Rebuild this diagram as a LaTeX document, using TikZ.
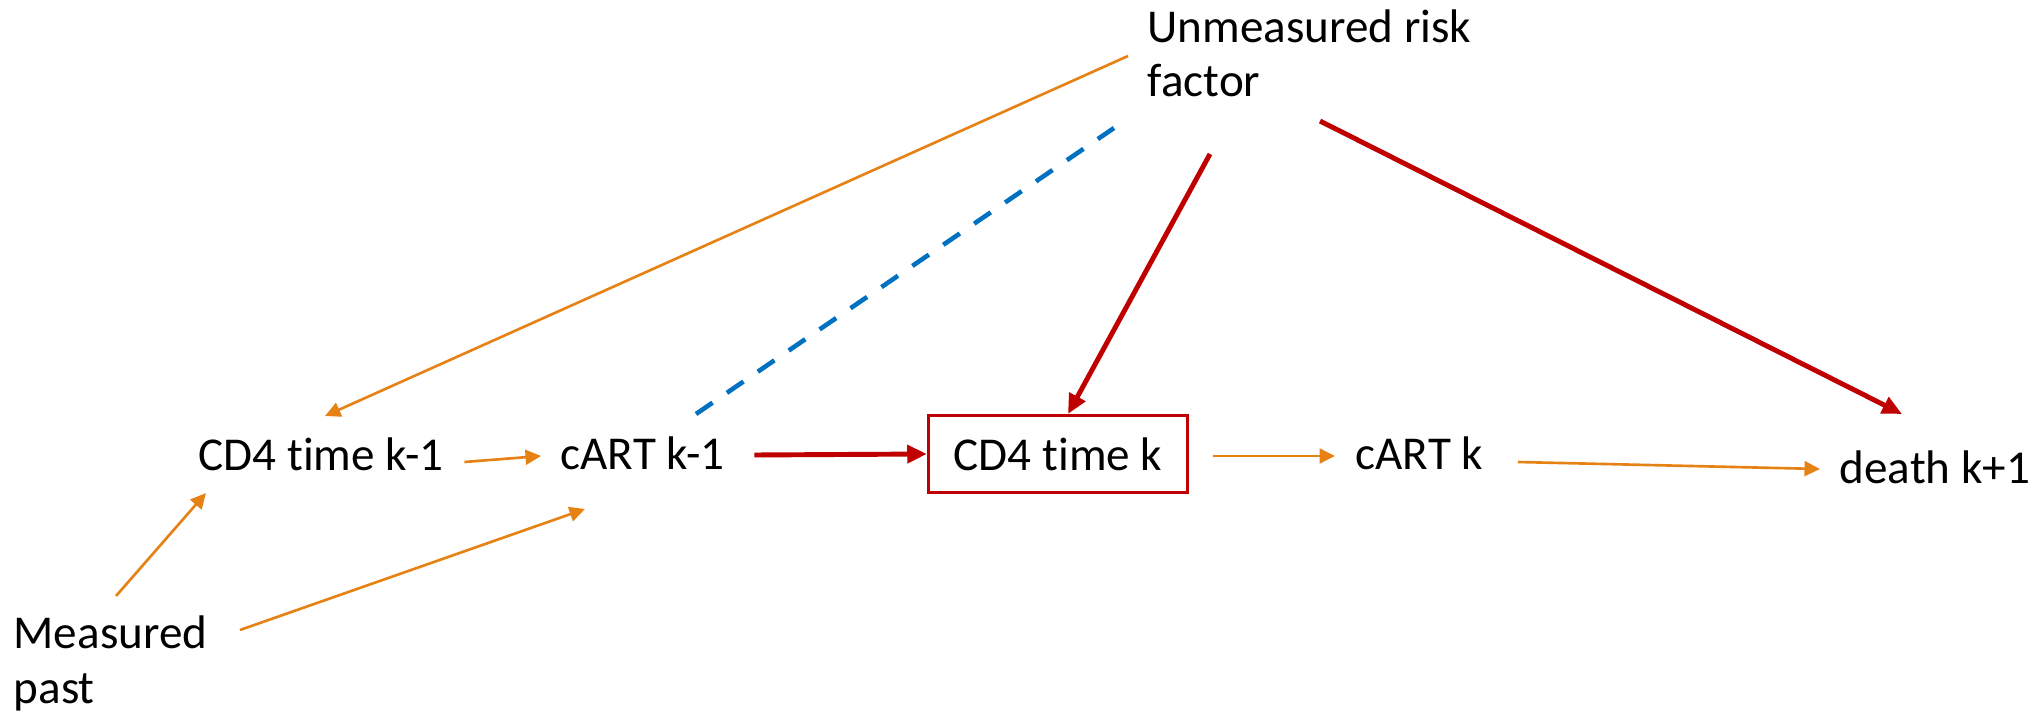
\documentclass[tikz,border=0pt]{standalone}
\usepackage{fontspec}
\setmainfont{Carlito}[Ligatures=NoCommon]
\usetikzlibrary{arrows.meta,calc,positioning}
\definecolor{dagorange}{RGB}{230,130,20}
\definecolor{dagred}{RGB}{192,0,0}
\definecolor{dagblue}{RGB}{0,112,192}
\tikzset{
    var/.style={inner sep=0pt, anchor=base west, align=left,
    font=\fontsize{13.4}{15.4}\selectfont},
    varbox/.style={draw=dagred, line width=0.85pt, rectangle, inner sep=0pt,
    minimum width=2.59cm, minimum height=0.77cm,
    font=\fontsize{13.4}{15.4}\selectfont},
    oarr/.style={draw=dagorange, line width=0.75pt, -{Triangle[length=4.4pt, width=4.2pt]}},
    rarr/.style={draw=dagred, line width=1.4pt, -{Triangle[length=5.6pt, width=5pt]}},
    bdash/.style={draw=dagblue, line width=1.3pt, dash pattern=on 5.7pt off 4.95pt}
}
\begin{document}
\begin{tikzpicture}[x=0.01cm, y=-0.01cm]
  \useasboundingbox (0,0) rectangle (2038,715);

  \node[var] (risk) at (1147,97) {Unmeasured risk\\factor};
  \node[var] (cdprev) at (198,470) {CD4 time k-1};
  \node[var] (cartprev) at (560,469) {cART k-1};
  \node[varbox] (cdnow) at (1058,454) {CD4 time k};
  \node[var] (cartnow) at (1355,469) {cART k};
  \node[var] (death) at (1839,483) {death k+1};
  \node[var] (past) at (13,703) {Measured\\past};

  % from the unmeasured factor
  \draw[oarr] ($(risk.base west)+(-19,-41)$) -- ($(cdprev.base west)+(127,-54)$);
  \draw[bdash] ($(cartprev.base west)+(136,-55)$) -- ($(risk.base west)+(-33,31)$);
  \draw[rarr] ($(risk.base west)+(63,57)$) -- ($(cdnow.north)+(10,0)$);
  \draw[rarr] ($(risk.base west)+(173,24)$) -- ($(death.base west)+(63,-69)$);

  % along the time line
  \draw[oarr] ($(cdprev.base east)+(20,-8)$) -- ($(cartprev.base west)+(-19,-13)$);
  \draw[rarr] ($(cartprev.base east)+(29,-14)$) -- (cdnow.west);
  \draw[oarr] ($(cdnow.east)+(24,2)$) -- ($(cartnow.base west)+(-20,-13)$);
  \draw[oarr] ($(cartnow.base east)+(34,-7)$) -- ($(death.base west)+(-19,-14)$);

  % from the measured past
  \draw[oarr] ($(past.base west)+(103,-107)$) -- ($(cdprev.base west)+(8,23)$);
  \draw[oarr] ($(past.base west)+(227,-73)$) -- ($(cartprev.base west)+(25,40)$);
\end{tikzpicture}
\end{document}
